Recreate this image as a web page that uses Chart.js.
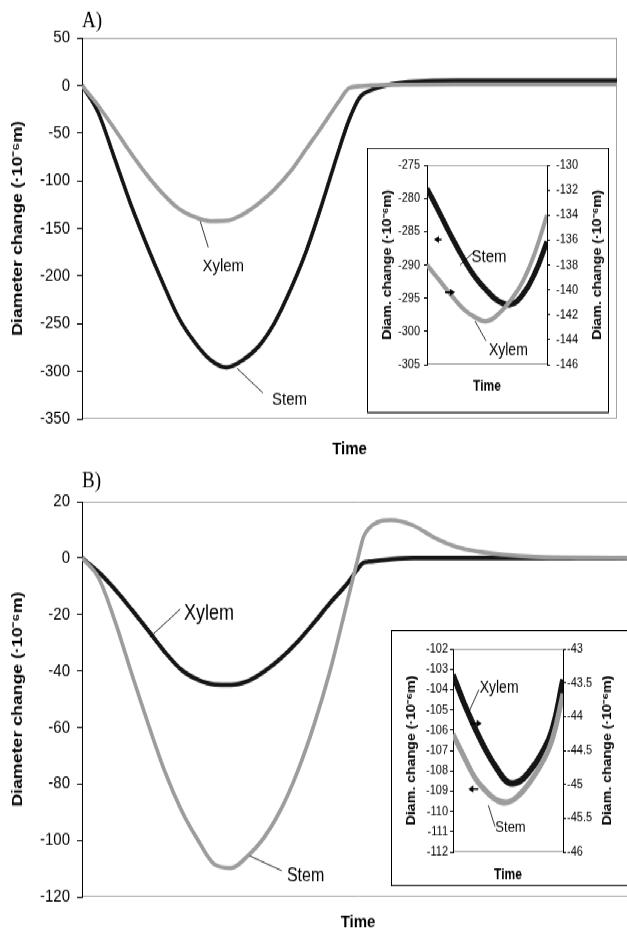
<!DOCTYPE html>
<html>
<head>
<meta charset="utf-8">
<script src="https://cdn.jsdelivr.net/npm/chart.js@4/dist/chart.umd.min.js"></script>
<style>
    html { overflow: hidden; }
    body { margin: 0; background: #fff; width: 627px; height: 931px; }
    /* the original figure is stretched vertically, so draw flat and scale */
    #stage { position: relative; width: 627px; height: 789px; transform: scaleY(1.18); transform-origin: 0 0; }
    #stage canvas { position: absolute; left: 0; top: 0; }
    .inset { position: absolute; border: 1px solid #000; background: #fff; }
</style>
</head>
<body>
<div id="stage">
    <canvas id="mainA" width="627" height="394"></canvas>
    <div class="inset" style="left:367px; top:125px; width:240px; height:223px;">
        <canvas id="insetA" width="240" height="223"></canvas>
    </div>
    <canvas id="mainB" width="641" height="397" style="top:394px;"></canvas>
    <div class="inset" style="left:391px; top:534px; width:240px; height:215px;">
        <canvas id="insetB" width="240" height="215"></canvas>
    </div>
</div>
<script>
// Panel A, main chart (time in % of the run)
const timeA = [0, 3, 6, 9, 12, 15, 18, 21, 24, 27, 30, 33, 36, 39, 42, 45, 48, 50, 52, 54, 56, 60, 70, 80, 90, 100];
const stemA = [0, -28, -75, -123, -166, -206, -243, -269, -288, -296, -288.5, -274, -249, -214, -172.5, -122, -68, -35, -12, -5, -1, 3, 5, 5, 5, 5];
const xylemA = [0, -21, -45, -70, -93, -113, -129, -138, -142.5, -142, -135.5, -124, -109, -90, -66, -42, -17, -2.5, -0.8, 0, 0.5, 0.7, 1, 1, 1, 1];

// Panel B, main chart
const timeB = [0, 3, 6, 9, 12, 15, 18, 21, 24, 27, 30, 33, 36, 39, 42, 45, 48, 50, 51, 52, 54, 56, 60, 64, 68, 72, 76, 82, 90, 100];
const xylemB = [0, -5, -11.2, -18.3, -25.7, -33.3, -39.6, -43.1, -44.8, -44.9, -43.6, -40.2, -35.6, -29.8, -23, -15.8, -9.2, -3.8, -1.6, -1.3, -0.8, -0.4, 0, 0, 0, 0, 0, 0, 0, 0];
const stemB = [0, -7, -22.5, -41, -58.8, -75.6, -89.3, -99.9, -108.5, -109.8, -105.6, -99, -89.2, -75.9, -59.3, -39.5, -15.9, 0, 7.5, 10.5, 13, 13.4, 11.5, 7, 3.8, 2.2, 1.2, 0.4, 0.1, 0];

// Insets (zoom on the minimum)
const timeIn = [0, 10, 20, 30, 40, 50, 60, 70, 80, 90, 100];
const stemInA = [-278.5, -282.0, -285.6, -288.9, -291.8, -293.9, -295.5, -295.9, -294.4, -291.2, -286.5];
const xylemInA = [-138.0, -139.2, -140.4, -141.5, -142.2, -142.5, -141.9, -140.8, -139.3, -137.0, -134.0];
const xylemInB = [-43.38, -43.8, -44.17, -44.5, -44.77, -44.97, -44.96, -44.8, -44.56, -44.2, -43.45];
const stemInB = [-106.2, -107.3, -108.35, -109.0, -109.45, -109.55, -109.2, -108.55, -107.7, -106.5, -104.2];

// labels, leader lines and arrows, in data units [time, value]
const notesA = [
    { text: 'Xylem', at: [26.4, -190], size: 15, leader: [[22.1, -142.6], [23.6, -170]] },
    { text: 'Stem', at: [38.8, -330], size: 15, leader: [[29, -297], [33.8, -322.6]] }
];
const notesB = [
    { text: 'Xylem', at: [23.0, -19.9], size: 18, leader: [[12.3, -28.1], [17.8, -18.1]] },
    { text: 'Stem', at: [40.5, -112.6], size: 16, leader: [[30.4, -105.5], [36.2, -110.8]] }
];
const notesInA = [
    { text: 'Stem', at: [51.7, -288.9], size: 15, leader: [[40, -287.9], [27.5, -290]] },
    { text: 'Xylem', at: [67.8, -144.9], axis: 'y2', size: 14, leader: [[40, -142.5], [49.2, -144.1]] }
];
const arrowsInA = [
    { from: [12.2, -286.2], to: [5.8, -286.2] },
    { from: [15, -140.2], to: [23.3, -140.2], axis: 'y2' }
];
const notesInB = [
    { text: 'Xylem', at: [41.9, -43.58], axis: 'y2', size: 14, leader: [[23.6, -43.6], [13.9, -43.95]] },
    { text: 'Stem', at: [52.3, -110.83], size: 13, leader: [[32.1, -109.7], [38.2, -110.75]] }
];
const arrowsInB = [
    { from: [15.5, -44.1], to: [26.1, -44.1], axis: 'y2' },
    { from: [23, -108.9], to: [13.9, -108.9] }
];

const FONT = '"Liberation Sans", Arial, sans-serif';
const BLACK = '#151515';
const GREY = '#9c9c9c';
const UNIT = '(\u00b710\u207b\u2076m)';

Chart.defaults.font.family = FONT;
Chart.defaults.color = '#000';

var decor = {
    mainA: { frame: true, letter: 'A)', letterY: 18, notes: notesA, arrows: [] },
    insetA: { notes: notesInA, arrows: arrowsInA, rightTitle: 230 },
    mainB: { frame: true, letter: 'B)', letterY: 14.5, notes: notesB, arrows: [] },
    insetB: { notes: notesInB, arrows: arrowsInB, rightTitle: 216 }
};

function px(chart, p, axis) {
    return [chart.scales.x.getPixelForValue(p[0]), chart.scales[axis || 'y'].getPixelForValue(p[1])];
}

const decorPlugin = {
    id: 'decor',
    beforeDatasetsDraw(chart) {
        var d = decor[chart.canvas.id];
        var a = chart.chartArea;
        var ctx = chart.ctx;
        ctx.save();
        ctx.strokeStyle = '#a4a4a4';
        ctx.lineWidth = 1;
        ctx.beginPath();
        ctx.moveTo(a.left + 1, a.top + 0.5);
        ctx.lineTo(a.right, a.top + 0.5);
        ctx.moveTo(a.left + 1, a.bottom - 0.5);
        ctx.lineTo(a.right, a.bottom - 0.5);
        if (d.frame) {
            ctx.moveTo(a.right - 0.5, a.top);
            ctx.lineTo(a.right - 0.5, a.bottom);
        }
        ctx.stroke();
        ctx.restore();
    },
    afterDatasetsDraw(chart) {
        var d = decor[chart.canvas.id];
        var a = chart.chartArea;
        var ctx = chart.ctx;
        ctx.save();
        ctx.fillStyle = '#000';
        ctx.strokeStyle = '#000';

        d.notes.forEach(function (n) {
            var p = px(chart, n.at, n.axis);
            ctx.font = n.size + 'px ' + FONT;
            ctx.textAlign = 'center';
            ctx.textBaseline = 'middle';
            ctx.fillText(n.text, p[0], p[1]);
            var p1 = px(chart, n.leader[0], n.axis);
            var p2 = px(chart, n.leader[1], n.axis);
            ctx.lineWidth = 0.8;
            ctx.beginPath();
            ctx.moveTo(p1[0], p1[1]);
            ctx.lineTo(p2[0], p2[1]);
            ctx.stroke();
        });

        d.arrows.forEach(function (ar) {
            var p1 = px(chart, ar.from, ar.axis);
            var p2 = px(chart, ar.to, ar.axis);
            var dir = p2[0] > p1[0] ? 1 : -1;
            ctx.lineWidth = 1.5;
            ctx.beginPath();
            ctx.moveTo(p1[0], p1[1]);
            ctx.lineTo(p2[0] - dir * 3, p2[1]);
            ctx.stroke();
            ctx.beginPath();
            ctx.moveTo(p2[0], p2[1]);
            ctx.lineTo(p2[0] - dir * 5, p2[1] - 3);
            ctx.lineTo(p2[0] - dir * 5, p2[1] + 3);
            ctx.closePath();
            ctx.fill();
        });

        if (d.letter) {
            ctx.font = '19px "Liberation Serif", "Times New Roman", serif';
            ctx.textAlign = 'left';
            ctx.textBaseline = 'middle';
            ctx.fillText(d.letter, a.left, d.letterY);
        }

        if (d.rightTitle) {
            ctx.translate(d.rightTitle, (a.top + a.bottom) / 2);
            ctx.rotate(-Math.PI / 2);
            ctx.font = 'bold 12px ' + FONT;
            ctx.textAlign = 'center';
            ctx.textBaseline = 'middle';
            ctx.fillText('Diam. change ' + UNIT, 0, 0);
        }
        ctx.restore();
    }
};

function points(time, values) {
    return time.map(function (t, i) { return { x: t, y: values[i] }; });
}

function line(label, time, values, color, width, axis, smooth) {
    var ds = {
        label: label,
        data: points(time, values),
        borderColor: color,
        borderWidth: width,
        pointRadius: 0,
        fill: false,
        yAxisID: axis || 'y'
    };
    if (smooth) {
        ds.tension = 0.45;
    } else {
        ds.cubicInterpolationMode = 'monotone';
    }
    return ds;
}

function yScale(min, max, step, s) {
    return {
        type: 'linear',
        position: s.position || 'left',
        min: min,
        max: max,
        ticks: {
            stepSize: step, padding: s.pad, autoSkip: false, font: { size: s.size }, color: '#000',
            callback: function (v) { return String(Math.round(v * 10) / 10); }
        },
        grid: { drawOnChartArea: false, tickLength: s.tick, tickColor: '#000', tickWidth: 1 },
        border: { color: '#000', width: 1 },
        title: {
            display: !!s.title,
            text: s.title || '',
            color: '#000',
            font: { size: s.titleSize, weight: 'bold' },
            padding: { top: s.titlePad || 0, bottom: 0 }
        },
        afterFit: function (scale) { scale.width = s.width; }
    };
}

function xScale(height, size) {
    return {
        type: 'linear',
        min: 0,
        max: 100,
        ticks: { display: false },
        grid: { display: false },
        border: { display: false },
        title: { display: true, text: 'Time', color: '#000', font: { size: size, weight: 'bold' }, padding: 0 },
        afterFit: function (scale) { scale.height = height; }
    };
}

function makeChart(id, datasets, scales, padding) {
    return new Chart(document.getElementById(id), {
        type: 'line',
        data: { datasets: datasets },
        options: {
            responsive: false,
            animation: false,
            layout: { padding: padding },
            scales: scales,
            plugins: { legend: { display: false }, tooltip: { enabled: false } }
        },
        plugins: [decorPlugin]
    });
}

makeChart('mainA', [
    line('Xylem', timeA, xylemA, GREY, 3.6),
    line('Stem', timeA, stemA, BLACK, 3.6)
], {
    x: xScale(35, 15),
    y: yScale(-350, 50, 50, { size: 15, tick: 5, pad: 7, width: 82, title: 'Diameter change ' + UNIT, titleSize: 15, titlePad: 9 })
}, { top: 32, right: 10, bottom: 4, left: 0 });

makeChart('insetA', [
    line('Xylem', timeIn, xylemInA, GREY, 4, 'y2', true),
    line('Stem', timeIn, stemInA, BLACK, 5, 'y', true)
], {
    x: xScale(26, 12),
    y: yScale(-305, -275, 5, { size: 11, tick: 3, pad: 4, width: 59, title: 'Diam. change ' + UNIT, titleSize: 12, titlePad: 12 }),
    y2: yScale(-146, -130, 2, { position: 'right', size: 11, tick: 3, pad: 6, width: 61 })
}, { top: 14, right: 0, bottom: 14, left: 0 });

makeChart('mainB', [
    line('Stem', timeB, stemB, GREY, 3.6),
    line('Xylem', timeB, xylemB, BLACK, 3.8)
], {
    x: xScale(31, 15),
    y: yScale(-120, 20, 20, { size: 15, tick: 5, pad: 7, width: 82, title: 'Diameter change ' + UNIT, titleSize: 15, titlePad: 9 })
}, { top: 31, right: 7, bottom: 0, left: 0 });

makeChart('insetB', [
    line('Stem', timeIn, stemInB, GREY, 5, 'y', true),
    line('Xylem', timeIn, xylemInB, BLACK, 5.5, 'y2', true)
], {
    x: xScale(27, 12),
    y: yScale(-112, -102, 1, { size: 11, tick: 3, pad: 2, width: 61, title: 'Diam. change ' + UNIT, titleSize: 12, titlePad: 12.5 }),
    y2: yScale(-46, -43, 0.5, { position: 'right', size: 11, tick: 3, pad: 1, width: 69 })
}, { top: 15, right: 0, bottom: 1, left: 0 });
</script>
</body>
</html>
